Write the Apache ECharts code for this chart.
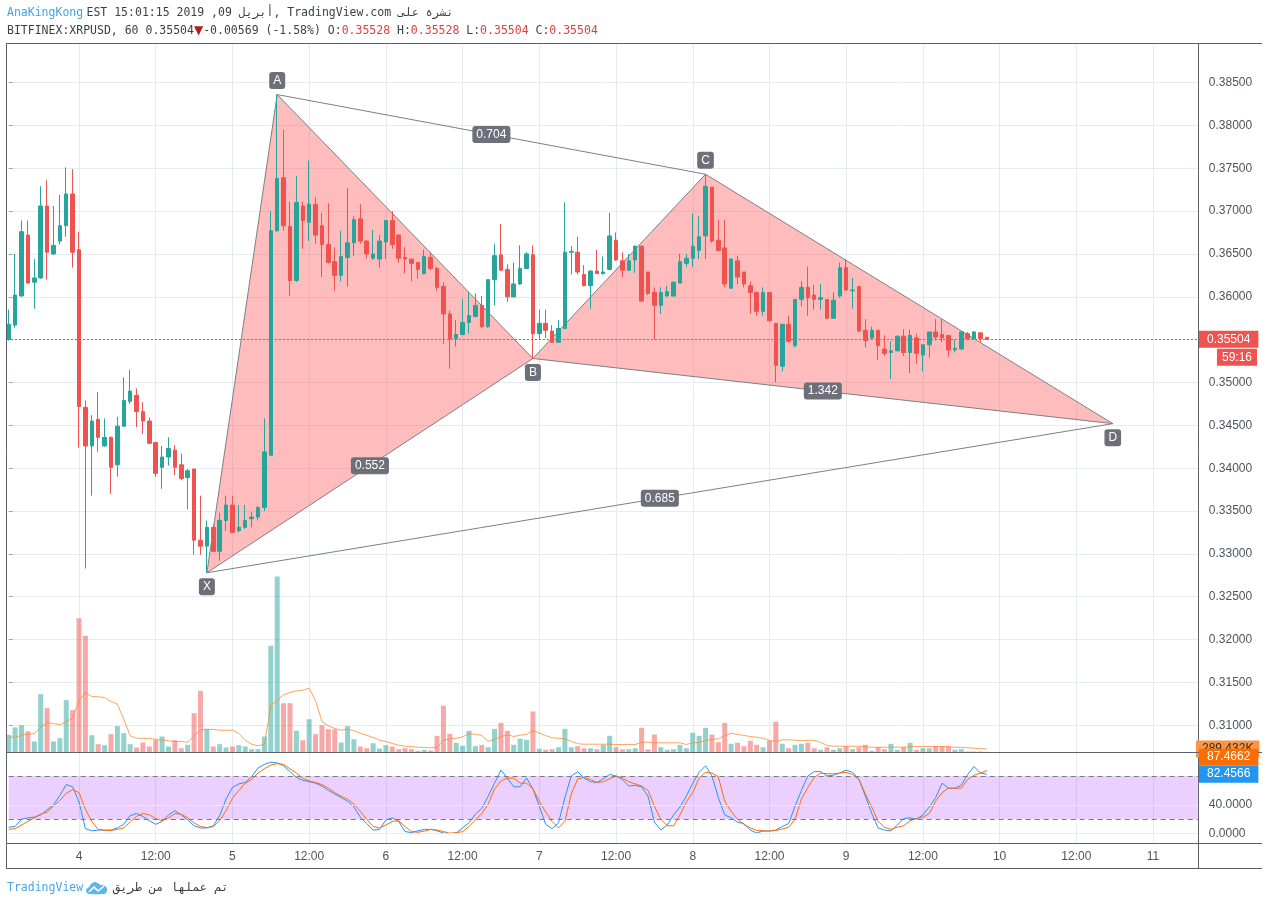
<!DOCTYPE html>
<html><head><meta charset="utf-8">
<script src="https://cdn.jsdelivr.net/npm/echarts@6/dist/echarts.min.js"></script>
<style>html,body{margin:0;padding:0;background:#fff}#c{width:1268px;height:906px}</style>
</head><body><div id="c"></div><script>
// ---------- DATA ----------
// hourly categories, Apr 3 13:00 -> Apr 11 07:00
const categories = [];
for (let h = 0; h < 187; h++) {
  const t = new Date(Date.UTC(2019, 3, 3, 13 + h));
  categories.push(t.getUTCDate() + ' ' + String(t.getUTCHours()).padStart(2, '0') + ':00');
}
// [open, high, low, close]
const candles = [
[.3550,.3585,.3549,.3568],[.3567,.3650,.3564,.3602],[.3601,.3689,.3600,.3676],[.3672,.3689,.3615,.3616],[.3617,.3644,.3586,.3622],
[.3622,.3729,.3621,.3706],[.3706,.3736,.3620,.3652],[.3650,.3706,.3649,.3660],[.3665,.3719,.3661,.3683],[.3683,.3751,.3670,.3720],
[.3720,.3749,.3634,.3652],[.3655,.3676,.3424,.3472],[.3471,.3479,.3283,.3426],[.3426,.3462,.3368,.3455],[.3457,.3489,.3419,.3436],
[.3426,.3458,.3425,.3436],[.3436,.3437,.3370,.3401],[.3404,.3460,.3390,.3449],[.3449,.3506,.3448,.3479],[.3478,.3515,.3475,.3490],
[.3485,.3493,.3448,.3466],[.3466,.3477,.3440,.3455],[.3455,.3459,.3428,.3429],[.3430,.3430,.3390,.3394],[.3401,.3426,.3376,.3413],
[.3413,.3436,.3403,.3423],[.3421,.3427,.3392,.3401],[.3404,.3417,.3386,.3388],[.3389,.3399,.3352,.3397],[.3399,.3399,.3299,.3316],
[.3316,.3368,.3299,.3309],[.3309,.3339,.3278,.3331],[.3331,.3335,.3302,.3303],[.3303,.3348,.3292,.3339],[.3339,.3368,.3327,.3357],
[.3357,.3368,.3325,.3325],[.3327,.3357,.3325,.3331],[.3331,.3357,.3329,.3339],[.3341,.3349,.3331,.3343],[.3343,.3356,.3339,.3354],
[.3354,.3458,.3350,.3419],[.3415,.3700,.3415,.3677],[.3677,.3836,.3676,.3738],[.3739,.3795,.3677,.3683],[.3682,.3711,.3601,.3619],
[.3619,.3741,.3617,.3710],[.3706,.3711,.3656,.3689],[.3687,.3759,.3665,.3708],[.3708,.3716,.3662,.3672],[.3683,.3698,.3623,.3661],
[.3661,.3709,.3639,.3640],[.3641,.3658,.3607,.3625],[.3625,.3677,.3618,.3647],[.3646,.3727,.3612,.3663],[.3663,.3694,.3648,.3690],
[.3691,.3708,.3662,.3665],[.3665,.3666,.3645,.3650],[.3645,.3678,.3643,.3650],[.3644,.3672,.3634,.3665],[.3664,.3690,.3644,.3689],
[.3689,.3700,.3656,.3661],[.3672,.3673,.3640,.3645],[.3646,.3658,.3627,.3644],[.3644,.3644,.3618,.3639],[.3640,.3640,.3621,.3632],
[.3627,.3655,.3626,.3647],[.3646,.3651,.3631,.3633],[.3633,.3635,.3607,.3611],[.3612,.3617,.3545,.3580],[.3580,.3584,.3516,.3551],
[.3551,.3573,.3542,.3556],[.3556,.3598,.3555,.3570],[.3570,.3606,.3557,.3578],[.3577,.3604,.3576,.3590],[.3590,.3601,.3564,.3565],
[.3565,.3620,.3564,.3620],[.3620,.3662,.3590,.3648],[.3649,.3685,.3630,.3631],[.3632,.3638,.3594,.3600],[.3600,.3640,.3599,.3615],
[.3615,.3660,.3614,.3633],[.3633,.3652,.3632,.3650],[.3649,.3660,.3528,.3557],[.3557,.3585,.3550,.3569],[.3569,.3585,.3552,.3561],
[.3560,.3567,.3547,.3547],[.3547,.3573,.3547,.3563],[.3563,.3710,.3562,.3652],[.3652,.3659,.3626,.3653],[.3652,.3670,.3626,.3629],
[.3626,.3637,.3612,.3613],[.3613,.3631,.3586,.3630],[.3630,.3655,.3627,.3627],[.3627,.3647,.3626,.3629],[.3632,.3698,.3631,.3671],
[.3666,.3675,.3642,.3643],[.3642,.3652,.3623,.3631],[.3631,.3650,.3630,.3642],[.3643,.3660,.3628,.3659],[.3659,.3660,.3594,.3595],
[.3629,.3629,.3602,.3604],[.3605,.3611,.3550,.3590],[.3590,.3611,.3580,.3605],[.3601,.3613,.3600,.3606],[.3601,.3618,.3600,.3617],
[.3616,.3650,.3616,.3641],[.3639,.3650,.3635,.3645],[.3645,.3697,.3635,.3659],[.3654,.3694,.3644,.3670],[.3671,.3743,.3644,.3729],
[.3728,.3728,.3663,.3665],[.3666,.3690,.3653,.3654],[.3657,.3690,.3611,.3615],[.3610,.3645,.3610,.3644],[.3642,.3648,.3615,.3623],
[.3629,.3629,.3611,.3615],[.3613,.3618,.3580,.3605],[.3605,.3606,.3578,.3583],[.3583,.3611,.3578,.3605],[.3605,.3605,.3571,.3572],
[.3569,.3569,.3500,.3520],[.3519,.3568,.3513,.3568],[.3568,.3578,.3547,.3548],[.3543,.3597,.3541,.3597],[.3597,.3618,.3589,.3611],
[.3611,.3635,.3578,.3599],[.3602,.3614,.3585,.3597],[.3597,.3615,.3585,.3599],[.3597,.3597,.3574,.3575],[.3575,.3605,.3574,.3596],
[.3601,.3640,.3599,.3634],[.3634,.3644,.3607,.3608],[.3607,.3622,.3586,.3608],[.3612,.3612,.3559,.3560],[.3561,.3574,.3541,.3549],
[.3552,.3565,.3550,.3561],[.3561,.3561,.3526,.3543],[.3539,.3555,.3531,.3534],[.3535,.3548,.3504,.3537],[.3537,.3555,.3536,.3554],
[.3554,.3562,.3531,.3535],[.3535,.3562,.3511,.3555],[.3552,.3557,.3522,.3534],[.3532,.3544,.3513,.3544],[.3544,.3559,.3529,.3559],
[.3559,.3574,.3549,.3553],[.3556,.3574,.3547,.3552],[.3555,.3555,.3530,.3538],[.3538,.3550,.3535,.3540],[.3539,.3559,.3538,.3559],
[.3557,.3559,.3550,.3551],[.3551,.3560,.3550,.3559],[.3558,.3558,.3547,.3551],[.35528,.35528,.35504,.35504]
];
// volume (thousands)
const volume = [
1500,2130,2320,1810,935,4960,3770,935,1220,4450,
3600,11420,9920,1470,705,620,1560,2240,1640,705,
425,850,510,1080,1360,510,1045,365,655,3340,
5240,1980,510,705,425,510,620,510,280,280,
1360,9070,14960,4190,4190,1845,1045,2830,1560,2320,
1980,1980,850,2240,1130,510,365,790,340,620,
510,280,365,280,145,230,170,1420,3970,1590,
825,570,1845,535,655,450,2010,2520,1845,655,
1165,1080,3485,315,230,280,450,2010,450,535,
365,365,280,655,1420,450,280,280,365,2100,
280,1530,450,230,280,655,365,1675,1420,2100,
1530,875,2520,740,825,535,995,655,450,995,
2610,740,365,655,740,825,365,230,450,230,
365,535,280,450,655,145,450,280,740,230,
450,825,230,365,365,535,535,535,230,280,
85,85,85,60];
const volumeMA = [
1335,1275,1470,1555,1615,2125,2550,2465,2355,2635,
2915,4395,5100,4760,4735,4675,4335,4105,2830,1420,
1215,1215,1190,1130,1045,995,935,935,875,1420,
1895,1980,1955,1895,1895,1895,1615,1045,705,570,
705,3970,4445,4905,5100,5245,5295,5465,4395,2635,
2270,2040,1895,1980,1845,1640,1470,1275,1045,935,
765,620,535,510,450,425,400,425,1020,1165,
1215,1335,1590,1555,1445,960,1105,1360,1505,1360,
1470,1530,1870,1640,1445,1250,1215,1165,960,740,
705,705,705,705,705,680,680,680,680,875,
875,825,825,825,825,825,680,825,850,1020,
1105,1165,1420,1640,1530,1445,1360,1300,1215,1020,
935,1080,1080,1045,1020,1020,1045,850,595,535,
535,535,535,535,485,450,450,450,450,450,
450,510,510,510,510,510,510,485,450,425,
400,365,340,289.432];
const stochK = [
9,10,20,22,23,26,33,40,53,68,
65,44,7,4,5,5,5,8,13,25,
28,24,18,13,17,26,32,26,19,11,
8,8,11,25,48,64,69,71,79,91,
96,99,98,94,86,78,74,72,70,66,
60,55,50,45,37,23,14,5,6,19,
22,17,3,1.5,4,6,6,4,1,0,
1,8,15,27,35,52,70,88,77,65,
65,77,62,38,13,7,15,50,80,86,
77,72,71,76,82,80,75,66,67,65,
52,16,5,12,26,37,52,70,85,94,
80,50,26,22,16,14,5,1,3.7,3.7,
5,10,14,38,60,80,86,86,80,81,
84,88,85,75,52,28,8,5,4,12,
21,22,20,26,37,50,70,63,63,67,
82,93,84,82.4566];
const stochD = [
6,7,12,17,22,27,30,38,46,56,
61,57,34,17,6,4.5,4.5,6,8,16,
24,28,26,21,18,22,28,27,22,15,
10,8.5,9.7,18,32,49,60,70,75,84,
90,95,97,96,90,84,77,73,71,68,
63,57,52,48,41,31,20,10,8,12,
17,18,10,3,2,3.5,6,5,3,0.7,
1.5,2.8,10,19,28,41,62,73,77,77,
70,70,62,45,30,17,8,17,55,76,
78,75,71,72,76,80,77,72,69,66,
60,38,20,11,11,26,44,57,77,85,
84,79,45,31,20,13,8,4.5,4,3.7,
4.5,6.5,9,20,48,64,78,84,83,83,
84,85,82,75,55,37,17,9,6,9,
11,18,21,23,28,45,57,63,63,63,
75,81,84,87.4662];
// XABCD pattern: [hour index, price]
const patternPoints = [[31, 0.3278], [42, 0.3836], [82, 0.3528], [109, 0.3743], [172.7, 0.3452]];
const patternLetters = ['X', 'A', 'B', 'C', 'D'];
const patternRatios = [[1, 3, '0.704'], [0, 2, '0.552'], [2, 4, '1.342'], [0, 4, '0.685']];
const stochLevels = [20, 80];
const stochGridLevels = [0, 40];
const countdown = '59:16';

// ---------- STYLE ----------
const UP = '#26a69a', DOWN = '#ef5350';
const GRID = '#e4ecf2', TXT = '#50535e', FRAME = '#5d6069';
const MONO = '"DejaVu Sans Mono", "Liberation Mono", monospace';
const SANS = '"Liberation Sans", Arial, sans-serif';
const lastClose = candles[candles.length - 1][3];
const isLabelHour = (i, v) => v.endsWith(' 00:00') || v.endsWith(' 12:00');
const fmtTime = v => { const p = v.split(' '); return p[1] === '00:00' ? p[0] : p[1]; };

const GL = 8.7, GW = 186 * 6.393;

function renderPattern(params, api) {
  if (params.dataIndex !== 0) return {type: 'group', children: []};
  const P = patternPoints.map(p => api.coord(p));
  const [X, A, B, C, D] = P;
  const fill = 'rgba(255,80,80,0.38)', stroke = '#7f7f7f';
  const ln = (p, q) => ({type: 'line', shape: {x1: p[0], y1: p[1], x2: q[0], y2: q[1]}, style: {stroke, lineWidth: 1}});
  return {type: 'group', children: [
    {type: 'polygon', shape: {points: [X, A, B]}, style: {fill}},
    {type: 'polygon', shape: {points: [B, C, D]}, style: {fill}},
    ln(X, A), ln(A, B), ln(B, X), ln(B, C), ln(C, D), ln(D, B), ln(A, C), ln(X, D)
  ]};
}
function renderPatternLabels(params, api) {
  if (params.dataIndex !== 0) return {type: 'group', children: []};
  const P = patternPoints.map(p => api.coord(p));
  const lab = (x, y, text) => ({type: 'text', x, y, style: {text, fill: '#fff', font: '12px ' + SANS,
    align: 'center', verticalAlign: 'middle', backgroundColor: '#6e7079', padding: [3, 4, 2, 4], borderRadius: 3}});
  const ch = [];
  patternRatios.forEach(([a, b, t]) => ch.push(lab((P[a][0] + P[b][0]) / 2, (P[a][1] + P[b][1]) / 2, t)));
  patternLetters.forEach((t, k) => {
    const up = (t === 'A' || t === 'C');
    ch.push(lab(P[k][0], P[k][1] + (up ? -14 : 14), t));
  });
  return {type: 'group', children: ch};
}

const staticGraphics = [
  {type: 'text', id: 'h1', x: 7, y: 13, style: {
    text: '{b|AnaKingKong} {d|EST 15:01:15 2019 ,09 }{d|أبريل}{d|, TradingView.com }{d|نشرة على}',
    verticalAlign: 'middle',
    rich: {b: {fill: '#3fa3e8', font: '11.5px ' + MONO}, d: {fill: '#3c3f48', font: '11.5px ' + MONO}}}},
  {type: 'text', id: 'h2', x: 7, y: 31, style: {
    text: '{d|BITFINEX:XRPUSD, 60 0.35504}{t|▼}{d|-0.00569 (-1.58%) O:}{r|0.35528}{d| H:}{r|0.35528}{d| L:}{r|0.35504}{d| C:}{r|0.35504}',
    verticalAlign: 'middle',
    rich: {d: {fill: '#3c3f48', font: '11.5px ' + MONO}, r: {fill: '#e0403c', font: '11.5px ' + MONO},
      t: {fill: '#b01c1c', font: '12px "DejaVu Sans"'}}}},
  // frame
  {type: 'line', id: 'f1', z: 50, shape: {x1: 6, y1: 43.5, x2: 1262, y2: 43.5}, style: {stroke: FRAME, lineWidth: 1}},
  {type: 'line', id: 'f2', z: 50, shape: {x1: 6.5, y1: 43, x2: 6.5, y2: 868.5}, style: {stroke: FRAME, lineWidth: 1}},
  {type: 'line', id: 'f3', z: 50, shape: {x1: 6, y1: 868.5, x2: 1262, y2: 868.5}, style: {stroke: FRAME, lineWidth: 1}},
  {type: 'line', id: 'f4', z: 50, shape: {x1: 1198.5, y1: 43, x2: 1198.5, y2: 868.5}, style: {stroke: FRAME, lineWidth: 1}},
  {type: 'line', id: 'f5', z: 60, shape: {x1: 6, y1: 752.5, x2: 1262, y2: 752.5}, style: {stroke: FRAME, lineWidth: 1}},
  {type: 'line', id: 'f6', z: 50, shape: {x1: 6, y1: 843.5, x2: 1262, y2: 843.5}, style: {stroke: FRAME, lineWidth: 1}},
  // footer
  {type: 'text', id: 'ft1', x: 7, y: 888, style: {text: 'TradingView', fill: '#48a7e4', font: '11.5px ' + MONO, verticalAlign: 'middle'}},
  {type: 'polygon', id: 'ft2', x: 86, y: 881, shape: {points: [[1, 12], [0, 9], [3, 6], [5, 3], [9, 1], [13, 3], [15, 4], [19, 5], [21, 8], [20, 12], [17, 13], [3, 13]], smooth: 0.4},
    style: {fill: '#5cb6ea'}},
  {type: 'polyline', id: 'ft3', x: 86, y: 881, shape: {points: [[3, 11], [8, 6], [12, 10], [18, 5]]}, style: {stroke: '#fff', lineWidth: 1.6, fill: null}},
  {type: 'text', id: 'ft4', x: 113, y: 888, style: {text: '{d|تم عملها من طريق}', verticalAlign: 'middle',
    rich: {d: {fill: '#3c3f48', font: '12px "DejaVu Sans Mono", "DejaVu Sans"'}}}}
];

const option = {
  animation: false,
  backgroundColor: '#fff',
  textStyle: {fontFamily: SANS},
  grid: [
    {left: GL, top: 43, width: GW, height: 709.5, containLabel: false, outerBoundsMode: 'none'},
    {left: GL, top: 552, width: GW, height: 200.5, containLabel: false, outerBoundsMode: 'none'},
    {left: GL, top: 752.5, width: GW, height: 90.5, containLabel: false, outerBoundsMode: 'none'}
  ],
  xAxis: [
    {type: 'category', gridIndex: 0, data: categories, boundaryGap: false, axisLine: {show: false}, axisTick: {show: false},
      axisLabel: {show: false}, splitLine: {show: true, interval: isLabelHour, lineStyle: {color: GRID, width: 1}}},
    {type: 'value', gridIndex: 0, min: 0, max: 186, show: false},
    {type: 'category', gridIndex: 1, data: categories, boundaryGap: false, show: false},
    {type: 'category', gridIndex: 2, data: categories, boundaryGap: false, axisLine: {show: false}, axisTick: {show: false},
      axisLabel: {show: true, interval: isLabelHour, formatter: fmtTime, color: TXT, fontSize: 12, margin: 8, fontFamily: SANS},
      splitLine: {show: true, interval: isLabelHour, lineStyle: {color: GRID, width: 1}}}
  ],
  yAxis: [
    {type: 'value', gridIndex: 0, position: 'right', min: 0.306826, max: 0.389615, splitNumber: 16, scale: true,
      axisLine: {show: false}, axisTick: {show: true, length: 4, lineStyle: {color: '#a3a6af'}},
      axisLabel: {formatter: v => v.toFixed(5), color: TXT, fontSize: 12, margin: 11, fontFamily: SANS, showMinLabel: false, showMaxLabel: false},
      splitLine: {show: true, lineStyle: {color: GRID, width: 1}}},
    {type: 'value', gridIndex: 1, min: 0, max: 17042, show: false},
    {type: 'value', gridIndex: 2, min: -12.88, max: 112.47, show: false}
  ],
  series: [
    {type: 'custom', name: 'pattern', xAxisIndex: 1, yAxisIndex: 0, z: 1, silent: true, data: patternPoints, renderItem: renderPattern},
    {type: 'bar', name: 'volume', xAxisIndex: 2, yAxisIndex: 1, z: 2, barWidth: 5, silent: true,
      data: volume.map((v, i) => ({value: v, itemStyle: {color: candles[i][3] >= candles[i][0] ? 'rgba(38,166,154,0.5)' : 'rgba(239,83,80,0.5)'}}))},
    {type: 'line', name: 'volumeMA', xAxisIndex: 2, yAxisIndex: 1, z: 3, symbol: 'none', silent: true, data: volumeMA,
      lineStyle: {color: 'rgba(255,140,50,0.8)', width: 1}},
    {type: 'candlestick', name: 'XRPUSD', xAxisIndex: 0, yAxisIndex: 0, z: 4, barWidth: 4, clip: false, silent: true,
      data: candles.map(c => [c[0], c[3], c[2], c[1]]),
      itemStyle: {color: UP, color0: DOWN, borderColor: UP, borderColor0: DOWN, borderWidth: 1}},
    {type: 'custom', name: 'patternLabels', xAxisIndex: 1, yAxisIndex: 0, z: 6, silent: true, data: patternPoints, renderItem: renderPatternLabels},
    {type: 'line', name: '%K', xAxisIndex: 3, yAxisIndex: 2, z: 4, symbol: 'none', silent: true, data: stochK,
      lineStyle: {color: '#2196f3', width: 1},
      markArea: {silent: true, itemStyle: {color: 'rgba(153,21,255,0.2)'}, data: [[{yAxis: stochLevels[0]}, {yAxis: stochLevels[1]}]]},
      markLine: {silent: true, symbol: ['none', 'none'], label: {show: false}, lineStyle: {color: '#787b86', type: [5, 4], width: 1},
        data: stochLevels.map(v => ({yAxis: v}))}},
    {type: 'line', name: '%D', xAxisIndex: 3, yAxisIndex: 2, z: 4, symbol: 'none', silent: true, data: stochD,
      lineStyle: {color: '#ff6d00', width: 1},
      markLine: {silent: true, symbol: ['none', 'none'], lineStyle: {color: GRID, type: 'solid', width: 1},
        label: {show: true, position: 'end', distance: 11, formatter: p => Number(p.value).toFixed(4), color: TXT, fontSize: 12, fontFamily: SANS},
        data: stochGridLevels.map(v => ({yAxis: v}))}}
  ],
  graphic: staticGraphics
};

const chart = echarts.init(document.getElementById('c'));
chart.setOption(option);

function box(id, text, x, y, bg, fg, align, z) {
  return {type: 'text', id, x, y, z: z || 100, style: {text, fill: fg, backgroundColor: bg, padding: [3, 8, 2, 8],
    font: '12px ' + SANS, align: align || 'left', verticalAlign: 'middle'}};
}
const yPrice = chart.convertToPixel({yAxisIndex: 0}, lastClose);
const yVol = chart.convertToPixel({yAxisIndex: 1}, volumeMA[volumeMA.length - 1]);
const kLast = stochK[stochK.length - 1], dLast = stochD[stochD.length - 1];
const yK = chart.convertToPixel({yAxisIndex: 2}, kLast);
const yD = Math.min(chart.convertToPixel({yAxisIndex: 2}, dLast), yK - 17);
const yPx = Math.round(yPrice) + 0.5;
const boxes = [
  {type: 'line', id: 'pl', z: 3, shape: {x1: 7, y1: yPx, x2: 1198, y2: yPx}, style: {stroke: '#f0504c', lineWidth: 1, lineDash: [2, 2]}},
  box('bp', lastClose.toFixed(5), 1199, yPrice, DOWN, '#fff', 'left', 100),
  {type: 'text', id: 'bc', x: 1257, y: yPrice + 18, z: 100, style: {text: countdown, fill: '#fff', backgroundColor: DOWN,
    padding: [3, 5, 2, 5], font: '12px ' + SANS, align: 'right', verticalAlign: 'middle'}},
  {type: 'text', id: 'bv', x: 1196, y: yVol, z: 55, style: {text: (volumeMA[volumeMA.length - 1]).toFixed(3) + 'K', fill: '#3a2a1a',
    backgroundColor: '#f7964a', padding: [3, 6, 2, 6], font: '12px ' + SANS, align: 'left', verticalAlign: 'middle'}},
  box('bd', dLast.toFixed(4), 1199, yD, '#ff6d00', '#fff', 'left', 101),
  box('bk', kLast.toFixed(4), 1199, yK, '#2196f3', '#fff', 'left', 102)
];
chart.setOption({graphic: staticGraphics.concat(boxes)});
</script></body></html>
